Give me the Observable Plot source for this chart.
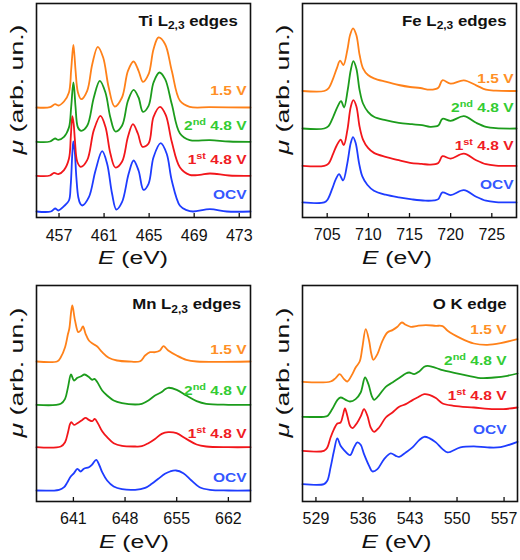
<!DOCTYPE html>
<html><head><meta charset="utf-8">
<script src="https://cdn.jsdelivr.net/npm/d3@7"></script>
<script src="https://cdn.jsdelivr.net/npm/@observablehq/plot@0.6"></script>
<style>
body{margin:0;background:#fff;}
#fig{position:relative;width:520px;height:560px;background:#fff;}
.panel{position:absolute;width:260px;height:280px;}
</style></head><body><div id="fig"></div>
<script>
// ---------- data: [energy (eV), mu (arb. un.)] ----------
const seriesNames = ["OCV", "1st 4.8 V", "2nd 4.8 V", "1.5 V"];

const tiTicks = [457, 461, 465, 469, 473];
const tiOCV = [[455,0],[456.27,0],[456.65,3],[456.94,1],[457.44,5.3],[457.88,11],[458.03,25],[458.18,58],[458.27,70],[458.39,61],[458.54,34],[458.71,14.3],[458.89,7.7],[459.06,6],[459.65,14.3],[460.24,41],[460.83,60.3],[461.27,47.7],[461.71,17.7],[462.09,2],[462.59,9.3],[463.18,37.7],[463.62,51],[464.06,41],[464.5,21.7],[464.95,27.7],[465.39,54.3],[466.03,68.3],[466.56,57.7],[467.01,31],[467.74,5.7],[468.33,1.4],[468.9,0],[470.4,2.4],[471.9,0],[474,0]];
const ti1st = [[455,0],[456.2,0.3],[456.56,3],[456.94,1.7],[457.44,5.7],[457.88,17],[458.05,40],[458.18,59.7],[458.3,52],[458.41,35.7],[458.62,14],[458.92,9],[459.5,15.7],[460.09,45.7],[460.68,60],[461.12,49],[461.56,22.3],[462.0,8.3],[462.59,14],[463.12,39],[463.56,51.7],[464.0,42.3],[464.41,29],[464.95,32.3],[465.39,59],[465.97,69],[466.48,60.7],[467.01,34],[467.74,8.3],[468.6,1],[469.5,1],[470.4,2.3],[472.1,0.3],[474,0]];
const ti2nd = [[455,0],[456.2,0.3],[456.65,3.3],[456.94,2],[457.44,5],[457.88,14.3],[458.08,35],[458.27,59.3],[458.37,50],[458.47,34.3],[458.68,14.3],[458.97,11],[459.5,16],[460.09,44.3],[460.62,61],[461.12,49.3],[461.56,24.3],[462.0,10.3],[462.59,16],[463.12,41],[463.62,52],[464.06,44.3],[464.45,30],[464.95,36],[465.39,59.3],[465.91,69.3],[466.42,62.7],[467.01,37.7],[467.74,8.3],[468.6,1.7],[470.4,1.7],[472.1,0.3],[474,0]];
const ti15 = [[455,0],[456.2,0.3],[456.65,3.3],[456.94,2],[457.44,6],[457.88,15],[458.08,38],[458.27,62.7],[458.37,52],[458.47,36.7],[458.68,15],[458.97,8.3],[459.5,16.7],[459.95,43.3],[460.44,60.7],[460.92,50],[461.41,20],[461.94,1],[462.59,10],[463.12,36.7],[463.62,46],[464.06,36.7],[464.45,25.7],[464.95,33.3],[465.39,58.3],[465.83,70],[466.42,63.3],[467.01,36.7],[467.74,6.7],[468.6,0.7],[470.4,0.3],[474,0]];

const feTicks = [705, 710, 715, 720, 725];
const feOCV = [[702,0],[704.64,0],[705.04,2.7],[705.64,14.3],[706.05,23.3],[706.45,28.3],[706.93,22],[707.45,39.3],[707.86,59.3],[708.14,65.3],[708.46,59.3],[708.87,39.3],[709.27,26],[709.87,17.7],[710.68,11.7],[712.09,7.7],[713.7,5],[715.31,3],[716.9,1.7],[718.0,2],[718.5,3.3],[719.0,10],[720.0,7.3],[721.6,12.3],[723.1,5.7],[724.3,1.7],[725.5,0.3],[728,0]];
const fe1st = [[702,0],[704.64,0],[705.16,2.3],[705.73,12.3],[706.17,20.7],[706.65,26.3],[707.01,20.7],[707.45,35.7],[707.86,59],[708.18,65.7],[708.54,59.7],[708.94,39],[709.35,26.3],[709.96,18],[710.68,13],[712.09,9],[713.7,5.7],[715.07,3],[716.5,2],[717.5,1.3],[718.5,3],[719.0,9.7],[720.0,7.3],[721.6,12.3],[723.1,5.7],[724.3,1.7],[725.5,0.3],[728,0]];
const fe2nd = [[702,0],[704.64,0],[705.16,2.3],[705.73,11.7],[706.25,21.7],[706.69,27.3],[707.05,21],[707.49,38.3],[707.86,58.3],[708.18,67.3],[708.54,60],[708.94,38.3],[709.35,25],[709.96,16.7],[710.68,11.7],[712.09,8.3],[713.7,5.7],[715.31,4.3],[716.52,3.3],[717.5,1.7],[718.5,3],[719.0,9.7],[720.0,7.7],[721.6,12.3],[723.1,5.7],[724.3,1.7],[725.5,0.3],[728,0]];
const fe15 = [[702,0],[704.64,0],[705.16,2.7],[705.73,12.7],[706.17,22.7],[706.57,30.3],[706.97,26],[707.45,41],[707.78,56],[708.14,62.7],[708.54,56],[708.94,36],[709.35,22.7],[709.96,16],[710.68,12.7],[712.09,9.3],[713.7,6],[715.07,4],[716.3,3],[717.5,1.3],[718.5,3.3],[719.0,10.7],[720.0,7.3],[721.6,10.7],[723.1,5.7],[724.3,1.3],[725.5,0.3],[728,0]];

const mnTicks = [641, 648, 655, 662];
const mnOCV = [[636,0],[639.06,0.7],[639.74,3.3],[640.19,8.3],[640.64,14],[641.08,17.3],[641.54,21.7],[641.98,19],[642.42,21.7],[643.1,23.3],[643.55,26],[644.09,30.7],[644.53,25],[644.9,18.3],[645.57,10],[646.46,4],[647.59,1.3],[649.37,0.7],[650.72,2.7],[651.62,6.7],[652.51,11.7],[653.41,16.7],[654.1,19],[654.9,20],[655.9,17.3],[657.0,10],[658.1,3.3],[659.5,0.7],[662,0],[665,0]];
const mn1st = [[636,0],[639.29,0.7],[639.87,5],[640.27,15],[640.55,23.3],[640.73,25],[641.08,22.3],[641.54,24],[642.21,27.3],[642.65,29.3],[643.1,27.3],[643.55,26],[643.9,28.3],[644.36,23.3],[644.9,16],[645.57,10],[646.46,4],[647.59,1.3],[649.37,0.7],[650.27,1],[651.16,4],[652.06,8.3],[652.96,13.3],[653.85,15],[654.98,14],[656.3,8.3],[657.7,2.7],[659.0,0.7],[662,0],[665,0]];
const mn2nd = [[636,0],[639.29,1],[639.87,6],[640.27,17.7],[640.68,30.3],[641.08,24.3],[641.54,27],[641.98,28.3],[642.52,30.3],[643.1,27.7],[643.55,25],[643.86,26],[644.23,22.7],[644.9,14.3],[645.57,9.3],[646.46,4.3],[647.59,1.7],[649.37,0.3],[650.27,1],[651.16,4.3],[652.06,9.3],[652.96,12.7],[653.41,15.5],[653.85,17],[655.0,15],[656.3,9.3],[657.7,3.7],[659.0,1],[662,0],[665,0]];
const mn15 = [[636,0],[638.85,0.3],[639.29,4.3],[639.87,14.3],[640.27,27.7],[640.45,33],[640.7,50],[640.86,56],[641.22,41],[641.67,29.3],[641.98,31],[642.3,35],[642.65,27.7],[643.1,21],[643.64,17.7],[644.23,15],[644.9,9.3],[645.79,3.7],[646.91,1],[648.47,0],[650.05,0.3],[650.72,6],[651.39,9.3],[652.06,9.3],[652.73,11],[653.2,15.3],[653.85,11],[655.0,6],[656.3,1.7],[657.7,0],[665,0]];

const oTicks = [529, 536, 543, 550, 557];
const oOCV = [[527,0],[530.19,0],[530.69,3.3],[531.18,16.7],[531.69,33.3],[532.18,45.7],[532.67,38.3],[533.18,34],[534.07,29],[534.67,36.7],[535.16,41.7],[535.66,39.3],[536.16,30],[536.91,18.3],[537.4,12.7],[538.15,15],[539.15,25],[540.13,30.7],[540.88,28.3],[541.39,27.3],[542.37,31.7],[543.37,36.7],[544.37,44],[545.12,47.3],[545.87,46],[546.85,41.7],[547.85,35],[548.6,31.7],[550.5,36.7],[552.5,37.7],[554.5,36.7],[556.5,37],[559,42.3]];
const o1st = [[527,0],[530.19,0],[530.69,3.3],[531.18,13.3],[531.69,21.7],[532.18,27.3],[532.67,28.3],[533.0,35],[533.32,42.3],[533.67,35],[534.07,25],[534.42,22.7],[535.16,28.3],[535.7,35],[536.16,41.7],[536.66,35],[537.15,23.3],[537.66,19],[538.4,23.3],[539.39,33.3],[540.39,38.3],[541.39,44],[542.37,46.7],[543.37,50.7],[544.12,53.3],[545.12,56.7],[545.87,56],[546.85,52.7],[547.85,47.3],[549.5,45],[552.5,43.3],[555.5,41.7],[556.9,41.7],[559,43.3]];
const o2nd = [[527,0],[530.19,0],[530.69,0.7],[531.43,7.7],[532.18,16.7],[532.67,19.3],[533.42,17],[534.07,15.3],[534.91,17.7],[535.66,24.3],[536.31,39.3],[536.81,32.7],[537.3,21],[537.66,17],[538.4,21.7],[539.39,30],[540.39,34.3],[541.39,38.7],[542.37,43.3],[542.88,44.3],[543.63,42.7],[544.37,45.3],[545.12,50],[545.61,51],[546.36,50],[547.36,47.7],[547.85,46.7],[550.5,42.7],[553.5,38.7],[555.5,39.3],[557.5,41],[559,43.3]];
const o15 = [[527,0],[531.18,0.3],[531.93,3.7],[532.53,7.7],[533.18,2.7],[533.67,0.3],[534.42,7.7],[534.91,14.3],[535.51,20.3],[535.91,34.3],[536.41,52.7],[536.91,41],[537.25,27.7],[537.55,22],[538.15,27.7],[538.9,41],[539.64,49.3],[540.39,51.7],[541.13,55],[541.78,59.3],[542.37,57],[543.12,55],[544.12,56],[545.36,56.7],[546.85,56],[547.85,55.7],[548.6,51],[550.5,43.7],[552.5,38.3],[554.5,37],[556.5,38.7],[559,42.7]];

// ---------- layout / style ----------
const lineColors = ["#1e3cff", "#f2161b", "#1c9c1c", "#ff8119"];
const labelColors = ["#3457ff", "#f01c24", "#33cc33", "#ff9026"];
const FONT = "'Liberation Sans', Arial, Helvetica, sans-serif";

const panels = [
  {left:0, top:0, title:"Ti L2,3 edges", sets:[tiOCV, ti1st, ti2nd, ti15], xd:[455,474], ticks:tiTicks,
   m:{t:3,r:10,b:63,l:36}, offsets:[6,41.7,75.7,110], labelY:[22.4,57.7,91.7,126.7], labelDx:-4, titleDx:-12.7, titleBase:25, tickPad:12.5, xlabDx:-10.5},
  {left:260, top:0, title:"Fe L2,3 edges", sets:[feOCV, fe1st, fe2nd, fe15], xd:[702,728], ticks:feTicks,
   m:{t:3,r:4,b:63,l:42}, offsets:[15.1,51.6,89,126.5], labelY:[33.3,71.6,110,139], labelDx:-3, titleDx:-10, titleBase:25, tickPad:11, xlabDx:-12.5},
  {left:0, top:280, title:"Mn L2,3 edges", sets:[mnOCV, mn1st, mn2nd, mn15], xd:[636,665], ticks:mnTicks,
   m:{t:5,r:10,b:59,l:36}, offsets:[11,54.3,96.7,140], labelY:[24.3,68.3,111,151.7], labelDx:-4, titleDx:-9.3, titleBase:28.3, tickPad:11, xlabDx:-9.5},
  {left:260, top:280, title:"O K edge", sets:[oOCV, o1st, o2nd, o15], xd:[527,559], ticks:oTicks,
   m:{t:5,r:3,b:59,l:42}, offsets:[17.4,50.7,84.7,119.7], labelY:[71.7,105.7,140.7,171.4], labelDx:-11, titleDx:-11, titleBase:28.3, tickPad:11, xlabDx:-13.5}
];

const W = 260, H = 280;
const labelFS = 13.5, titleFS = 14, axisFS = 19;

function decorate(svg) {
  d3.select(svg).selectAll("text").each(function () {
    const el = d3.select(this);
    const t = this.textContent;
    if (/^\d+$/.test(t)) return;
    let m, s = 1.15;
    if ((m = t.match(/^(\d)(st|nd) (.*)$/))) {
      el.text(null);
      el.append("tspan").text(m[1]);
      el.append("tspan").attr("font-size", 9.5).attr("dy", -5).text(m[2]);
      el.append("tspan").attr("dy", 5).text("\u00a0" + m[3]);
      s = 1.15;
    } else if ((m = t.match(/^(.*L)(2,3) (.*)$/))) {
      el.text(null);
      el.append("tspan").text(m[1]);
      el.append("tspan").attr("font-size", 10).attr("dy", 4).text(m[2]);
      el.append("tspan").attr("dy", -4).text("\u00a0" + m[3]);
      s = 1.2;
    } else if (t === "O K edge") {
      s = 1.2;
    } else if (t === "E (eV)") {
      el.text(null);
      el.append("tspan").attr("font-style", "italic").text(t[0]);
      el.append("tspan").text(t.slice(1));
      s = 1.3;
    } else if (t === "\u03bc (arb. un.)") {
      el.text(null);
      el.append("tspan").attr("font-style", "italic").text(t[0]);
      el.append("tspan").text(t.slice(1));
      s = 1.4;
    }
    const tr = this.getAttribute("transform");
    if (tr) this.setAttribute("transform", tr + ` scale(${s},1)`);
    else {
      const x = +this.getAttribute("x") || 0, y = +this.getAttribute("y") || 0;
      this.removeAttribute("x"); this.removeAttribute("y");
      this.setAttribute("transform", `translate(${x},${y}) scale(${s},1)`);
    }
  });
}

const fig = document.getElementById("fig");
for (const p of panels) {
  const innerH = H - p.m.t - p.m.b;
  const marks = [];
  p.sets.forEach((arr, i) => {
    marks.push(Plot.line(arr, {x: d => d[0], y: d => d[1] + p.offsets[i], stroke: lineColors[i], strokeWidth: 1.8, curve: "catmull-rom"}));
  });
  marks.push(Plot.frame({stroke: "#111", strokeWidth: 1.6}));
  marks.push(Plot.tickX(p.ticks, {x: d => d, insetTop: innerH - 4, stroke: "#111", strokeWidth: 1.3}));
  marks.push(Plot.axisX(p.ticks, {tickSize: 0, tickPadding: p.tickPad, fontSize: 16, label: null, tickFormat: d => String(d)}));
  seriesNames.forEach((name, i) => {
    marks.push(Plot.text([name], {y: () => p.labelY[i], text: d => d, frameAnchor: "right", textAnchor: "end", lineAnchor: "middle", dx: p.labelDx,
      fill: labelColors[i], fontWeight: "bold", fontSize: labelFS}));
  });
  marks.push(Plot.text([p.title], {text: d => d, frameAnchor: "top-right", textAnchor: "end", lineAnchor: "top",
    dx: p.titleDx, dy: p.titleBase - 0.71 * titleFS - p.m.t, fontWeight: "bold", fontSize: titleFS, fill: "#111"}));
  marks.push(Plot.text(["E (eV)"], {text: d => d, frameAnchor: "bottom", textAnchor: "middle", lineAnchor: "middle",
    dx: p.xlabDx, dy: p.top ? 40.7 : 40.3, fontSize: axisFS, fill: "#111"}));
  marks.push(Plot.text(["\u03bc (arb. un.)"], {text: d => d, frameAnchor: "left", textAnchor: "middle", lineAnchor: "middle",
    rotate: -90, dx: -20, dy: -21, fontSize: axisFS, fill: "#111"}));

  const svg = Plot.plot({
    width: W, height: H,
    marginTop: p.m.t, marginRight: p.m.r, marginBottom: p.m.b, marginLeft: p.m.l,
    x: {domain: p.xd, label: null},
    y: {domain: [0, innerH], axis: null},
    style: {fontFamily: FONT, background: "transparent", color: "#111", overflow: "visible"},
    marks
  });
  decorate(svg);
  const div = document.createElement("div");
  div.className = "panel";
  div.style.left = p.left + "px";
  div.style.top = p.top + "px";
  div.appendChild(svg);
  fig.appendChild(div);
}
</script>
</body></html>
